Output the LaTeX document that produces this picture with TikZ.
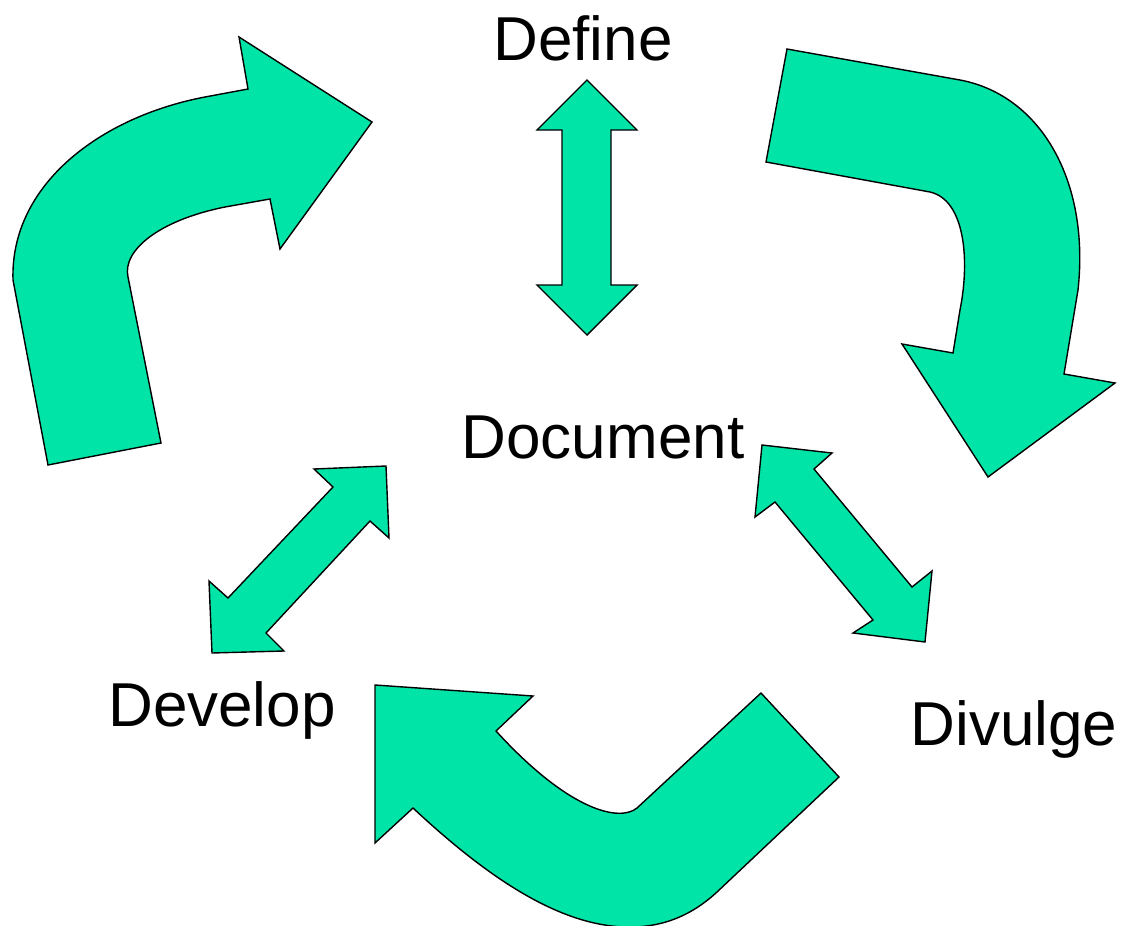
\documentclass[tikz,border=0pt]{standalone}
\usepackage{fontspec}
\setmainfont{Liberation Sans}
\definecolor{mint}{RGB}{0,228,168}
\begin{document}
\begin{tikzpicture}[x=1pt,y=-1pt,
  bigarrow/.style={fill=mint,draw=black,line width=1.4pt,line join=miter},
  label/.style={font=\fontsize{62}{74}\selectfont,inner sep=0pt}]
\useasboundingbox (0,0) rectangle (1122,926);

% labels
\node[label] (define) at (583,38) {Define};
\node[label] (document) at (603,437) {Document};
\node[label] (develop) at (222,710) {Develop};
\node[label] (divulge) at (1014,729) {Divulge};

% curved arrow: Develop -> Define
\path[bigarrow] (48,465) -- (161,443) -- (128,277)
  .. controls (122,250) and (160,220) .. (225,207) -- (270,199)
  -- (280,249) -- (372,122) -- (239,37) -- (248,89) -- (205,97)
  .. controls (100,117) and (10,185) .. (13,280)
  -- cycle;

% curved arrow: Define -> Divulge
\path[bigarrow] (787,49) -- (766,162) -- (930,192)
  .. controls (965,200) and (970,260) .. (960,310) -- (953,353)
  -- (902,344) -- (988,477) -- (1115,383) -- (1064,374) -- (1078,290)
  .. controls (1090,180) and (1040,95) .. (960,80)
  -- cycle;

% curved arrow: Divulge -> Develop
\path[bigarrow] (761,693) -- (839,777) -- (717,892)
  .. controls (690,917) and (660,928) .. (625,927)
  .. controls (560,925) and (490,880) .. (413,808)
  -- (375,843) -- (375,685) -- (533,696) -- (496,731)
  .. controls (570,812) and (620,822) .. (637,808)
  -- cycle;

% double arrow: Define <-> Document
\path[bigarrow] (587,80) -- (637,130) -- (611,130) -- (611,285) -- (637,285)
  -- (587,335) -- (537,285) -- (562,285) -- (562,130) -- (537,130) -- cycle;

% double arrow: Document <-> Develop
\path[bigarrow] (386,466) -- (389,538) -- (370,521) -- (266,633) -- (284,651)
  -- (212,653) -- (209,581) -- (228,598) -- (333,487) -- (314,469) -- cycle;

% double arrow: Document <-> Divulge
\path[bigarrow] (762,445) -- (832,453) -- (814,469) -- (912,587) -- (932,571)
  -- (925,642) -- (853,633) -- (873,620) -- (775,502) -- (755,517) -- cycle;
\end{tikzpicture}
\end{document}
